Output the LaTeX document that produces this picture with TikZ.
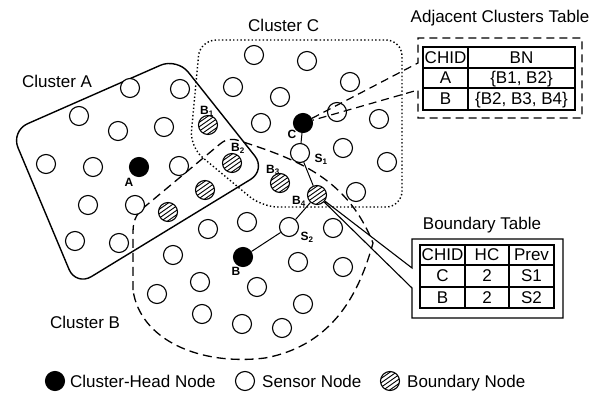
\documentclass[tikz,border=0pt]{standalone}
\usepackage{fontspec}
\setmainfont{Liberation Sans}
\begin{document}
\begin{tikzpicture}[x=1pt,y=-1pt,
  nd/.style={circle,draw,line width=1.1pt,minimum size=19pt,inner sep=0pt,fill=white},
  sensor/.style={nd},
  head/.style={nd,fill=black},
  bnode/.style={nd,path picture={\foreach \k in {-4,...,4}{\draw[line width=0.9pt,shift={(path picture bounding box.center)}] ({-0.574*\k*3.6pt-0.819*12pt},{0.819*\k*3.6pt-0.574*12pt}) -- ++({0.819*24pt},{0.574*24pt});}}},
  lab/.style={inner sep=0pt,font=\fontsize{12}{12}\selectfont\bfseries},
  big/.style={inner sep=0pt,font=\fontsize{17}{17}\selectfont},
  link/.style={line width=1pt},
  clA/.style={line width=1.4pt,rounded corners=18pt},
  clB/.style={line width=1.3pt,dash pattern=on 9pt off 5pt},
  clC/.style={line width=1.4pt,dash pattern=on 1.4pt off 2.3pt,rounded corners=16pt},
  dbox/.style={line width=1.2pt,dash pattern=on 8pt off 5pt},
  sbox/.style={line width=1.1pt},
  tbl/.style={line width=1.5pt}
]
\useasboundingbox (0,0) rectangle (602,395);

% clusters
\draw[clA] (94,94.5) -- (177,58) -- (266,170) -- (76,286) -- (11,131) -- cycle;
\draw[clC] (300,40) -- (402,40) -- (402,207) -- (262,207) -- (190,147) -- (200,40) -- cycle;
\draw[clB] (133,290) -- (133,232) .. controls (133,218) and (138,212) .. (148,204)
  -- (220,144) .. controls (226,139) and (232,138) .. (240,141)
  .. controls (300,160) and (348,180) .. (373,243)
  .. controls (360,290) and (335,345) .. (265,358)
  .. controls (200,366) and (140,340) .. (133,290);

\node[big,anchor=base west] (tA) at (22,88) {Cluster A};
\node[big,anchor=base west] (tC) at (248,32) {Cluster C};
\node[big,anchor=base west] (tB) at (50,328) {Cluster B};

% sensor nodes
\foreach \nm/\x/\y in {a1/130/88, a2/180/89, a3/79/116, a4/118/131, a5/164/127, a6/46/164, a7/93/167, a8/179/166, a9/88/205, a10/135/205, a11/75/241, a12/119/243,
 c1/254/55, c2/307/61, c3/233/87, c4/280/97, c5/350/82, c6/261/123, c7/337/112, c8/343/148, c9/379/119, c10/387/162, c11/356/192,
 b1/247/222, b2/208/229, b3/333/228, b4/298/262, b5/343/267, b6/173/255, b7/200/282, b8/257/287, b9/157/294, b10/303/304, b11/202/314, b12/242/324, b13/282/328}
  \node[sensor] (\nm) at (\x,\y) {};
\node[sensor] (S1) at (300,153) {};
\node[sensor] (S2) at (289,227) {};
\node[head] (A) at (139,167) {};
\node[head] (B) at (243,257) {};
\node[head] (C) at (303,123) {};
\node[bnode] (hb0) at (168,212) {};
\node[bnode] (hb5) at (205,190) {};
\node[bnode] (B1) at (208,125) {};
\node[bnode] (B2) at (232,163) {};
\node[bnode] (B3) at (280,183) {};
\node[bnode] (B4) at (317,195) {};

% route
\draw[link] (C) -- (S1) -- (B4) -- (S2) -- (B);

% node labels
\node[lab] (lA) at (129,182) {A};
\node[lab] (lB) at (236,271) {B};
\node[lab] (lC) at (292,134) {C};
\node[lab] (lB1) at (207,111) {B\textsubscript{1}};
\node[lab] (lB2) at (238,148) {B\textsubscript{2}};
\node[lab] (lB3) at (273,170) {B\textsubscript{3}};
\node[lab] (lB4) at (299,201) {B\textsubscript{4}};
\node[lab] (lS1) at (321,159) {S\textsubscript{1}};
\node[lab] (lS2) at (307,237) {S\textsubscript{2}};

% adjacent clusters table
\coordinate (at1) at (418,63);
\coordinate (at2) at (418,90);
\draw[dbox] (C) -- (at1) -- (418,38) -- (582,38) -- (582,118) -- (418,118) -- (at2) -- (C);
\node[big,anchor=base] (tAdj) at (500,23) {Adjacent Clusters Table};
\draw[tbl] (423,47) rectangle (575,110);
\draw[tbl] (423,68) -- (575,68) (423,88) -- (575,88) (468,47) -- (468,110);
\node[big,anchor=base] (a11t) at (445.5,63.5) {CHID};
\node[big,anchor=base] (a12t) at (521.5,63.5) {BN};
\node[big,anchor=base] (a21t) at (445.5,84) {A};
\node[big,anchor=base] (a22t) at (521.5,84) {\{B1, B2\}};
\node[big,anchor=base] (a31t) at (445.5,105) {B};
\node[big,anchor=base] (a32t) at (521.5,105) {\{B2, B3, B4\}};

% boundary table
\coordinate (bt1) at (412,268);
\coordinate (bt2) at (412,288);
\draw[sbox] (B4) -- (bt1) -- (412,239) -- (563,239) -- (563,318) -- (412,318) -- (bt2) -- (B4);
\node[big,anchor=base] (tBd) at (482,230) {Boundary Table};
\draw[tbl] (420,245) rectangle (554,308);
\draw[tbl] (420,265) -- (554,265) (420,287) -- (554,287) (465,245) -- (465,308) (509,245) -- (509,308);
\node[big,anchor=base] (b11t) at (442.5,261) {CHID};
\node[big,anchor=base] (b12t) at (487,261) {HC};
\node[big,anchor=base] (b13t) at (531.5,261) {Prev};
\node[big,anchor=base] (b21t) at (442.5,282) {C};
\node[big,anchor=base] (b22t) at (487,282) {2};
\node[big,anchor=base] (b23t) at (531.5,282) {S1};
\node[big,anchor=base] (b31t) at (442.5,303.5) {B};
\node[big,anchor=base] (b32t) at (487,303.5) {2};
\node[big,anchor=base] (b33t) at (531.5,303.5) {S2};

% legend
\node[head] (lg1) at (55,381) {};
\node[big,anchor=base west] (lt1) at (70,387) {Cluster-Head Node};
\node[sensor] (lg2) at (245,381) {};
\node[big,anchor=base west] (lt2) at (262,387) {Sensor Node};
\node[bnode] (lg3) at (390,381) {};
\node[big,anchor=base west] (lt3) at (407,387) {Boundary Node};
\end{tikzpicture}
\end{document}
